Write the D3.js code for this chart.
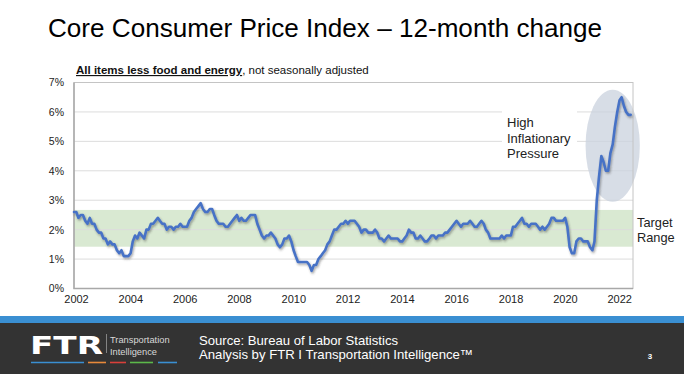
<!DOCTYPE html>
<html><head><meta charset="utf-8">
<script src="https://cdn.jsdelivr.net/npm/d3@7"></script>
<style>
body{margin:0;background:#fff;}
svg{display:block;font-family:"Liberation Sans",Arial,Helvetica,sans-serif;}
</style>
</head><body>
<svg id="chart" width="684" height="374"></svg>
<script>
// ---- data (12-month % change, core CPI, NSA, monthly from Jan 2002) ----
const startYear = 2002;
const coreCpi = [
  2.6,2.6,2.4,2.5,2.5,2.3,2.2,2.4,2.2,2.2,2.0,1.9,   // 2002
  1.9,1.7,1.7,1.5,1.6,1.5,1.5,1.3,1.2,1.3,1.1,1.1,   // 2003
  1.1,1.2,1.6,1.8,1.7,1.9,1.8,1.7,2.0,2.0,2.2,2.2,   // 2004
  2.3,2.4,2.3,2.2,2.2,2.0,2.1,2.1,2.0,2.1,2.1,2.2,   // 2005
  2.1,2.1,2.1,2.3,2.4,2.6,2.7,2.8,2.9,2.7,2.6,2.6,   // 2006
  2.7,2.7,2.5,2.3,2.2,2.2,2.2,2.1,2.1,2.2,2.3,2.4,   // 2007
  2.5,2.3,2.4,2.3,2.3,2.4,2.5,2.5,2.5,2.2,2.0,1.8,   // 2008
  1.7,1.8,1.8,1.9,1.8,1.7,1.5,1.4,1.5,1.7,1.7,1.8,   // 2009
  1.6,1.3,1.1,0.9,0.9,0.9,0.9,0.9,0.8,0.6,0.8,0.8,   // 2010
  1.0,1.1,1.2,1.3,1.5,1.6,1.8,2.0,2.0,2.1,2.2,2.2,   // 2011
  2.3,2.2,2.3,2.3,2.3,2.2,2.1,1.9,2.0,2.0,1.9,1.9,   // 2012
  1.9,2.0,1.9,1.7,1.7,1.6,1.7,1.8,1.7,1.7,1.7,1.7,   // 2013
  1.6,1.6,1.7,1.8,2.0,1.9,1.9,1.7,1.7,1.8,1.7,1.6,   // 2014
  1.6,1.7,1.8,1.8,1.7,1.8,1.8,1.8,1.9,1.9,2.0,2.1,   // 2015
  2.2,2.3,2.2,2.1,2.2,2.2,2.2,2.3,2.2,2.1,2.1,2.2,   // 2016
  2.3,2.2,2.0,1.9,1.7,1.7,1.7,1.7,1.7,1.8,1.7,1.8,   // 2017
  1.8,1.8,2.1,2.1,2.2,2.3,2.4,2.2,2.2,2.1,2.2,2.2,   // 2018
  2.2,2.1,2.0,2.1,2.0,2.1,2.2,2.4,2.4,2.3,2.3,2.3,   // 2019
  2.3,2.4,2.1,1.4,1.2,1.2,1.6,1.7,1.7,1.6,1.6,1.6,   // 2020
  1.4,1.3,1.6,3.0,3.8,4.5,4.3,4.0,4.0,4.6,4.9,5.5,   // 2021
  6.0,6.4,6.5,6.2,6.0,5.9,5.9                        // 2022
];
const yTickValues = [0,1,2,3,4,5,6,7];
const xTickYears = [2002,2004,2006,2008,2010,2012,2014,2016,2018,2020,2022];
const targetRange = [1.42, 2.67];
const highInflationArea = {year: 2021.85, value: 4.85, halfValue: 1.9};
const titleText = "Core Consumer Price Index \u2013 12-month change";
const subtitleBold = "All items less food and energy";
const subtitleRest = ", not seasonally adjusted";
const sourceLines = ["Source: Bureau of Labor Statistics", "Analysis by FTR I Transportation Intelligence\u2122"];
const pageNumber = "3";

// ---- layout ----
const svg = d3.select("#chart");
const plot = {left: 74, right: 633, top: 82.5, bottom: 288.5};

const series = coreCpi.map((v, i) => ({date: new Date(startYear, i, 1), v}));
const x = d3.scaleTime()
  .domain([new Date(startYear, 0, 1), new Date(2022, 7, 1)])
  .range([plot.left, plot.right]);
const y = d3.scaleLinear().domain([0, 7]).range([plot.bottom, plot.top]);
const yearToDate = yr => new Date(Math.floor(yr), Math.round((yr - Math.floor(yr)) * 12), 1);

const defs = svg.append("defs");
defs.append("filter").attr("id", "shadow")
  .attr("x", "-5%").attr("y", "-10%").attr("width", "110%").attr("height", "130%")
  .append("feDropShadow")
  .attr("dx", 1).attr("dy", 1.6).attr("stdDeviation", 0.8)
  .attr("flood-color", "#333").attr("flood-opacity", 0.45);

// title
svg.append("text").attr("x", 48).attr("y", 37)
  .attr("font-size", 26.1).attr("fill", "#000")
  .attr("textLength", 554).attr("lengthAdjust", "spacingAndGlyphs").text(titleText);

// subtitle
const sub = svg.append("text").attr("x", 76).attr("y", 74).attr("font-size", 11.5).attr("fill", "#111");
sub.append("tspan").attr("font-weight", "bold").attr("text-decoration", "underline").text(subtitleBold);
sub.append("tspan").text(subtitleRest);

// target band
svg.append("rect")
  .attr("x", plot.left).attr("width", plot.right - plot.left)
  .attr("y", y(targetRange[1])).attr("height", y(targetRange[0]) - y(targetRange[1]))
  .attr("fill", "#d9e9d2");

// gridlines
svg.append("g").selectAll("line").data(yTickValues.filter(d => d > 0 && d < 7)).join("line")
  .attr("x1", plot.left).attr("x2", plot.right)
  .attr("y1", d => y(d)).attr("y2", d => y(d))
  .attr("stroke", "#dcdcdc").attr("stroke-width", 1);

// white box behind annotation text
svg.append("rect").attr("x", 502).attr("y", 100).attr("width", 75).attr("height", 62).attr("fill", "#fff");

// ellipse (high inflation)
const ha = highInflationArea;
svg.append("ellipse")
  .attr("cx", x(yearToDate(ha.year)))
  .attr("cy", y(ha.value))
  .attr("rx", x(new Date(2012, 0, 1)) - x(new Date(2011, 0, 1)))
  .attr("ry", y(0) - y(ha.halfValue))
  .attr("fill", "#c9d2de").attr("fill-opacity", 0.75);

// plot frame
svg.append("rect")
  .attr("x", plot.left).attr("y", plot.top)
  .attr("width", plot.right - plot.left).attr("height", plot.bottom - plot.top)
  .attr("fill", "none").attr("stroke", "#c4c4c4").attr("stroke-width", 1);
svg.append("path")
  .attr("d", `M${plot.left},${plot.top}V${plot.bottom}H${plot.right}`)
  .attr("fill", "none").attr("stroke", "#a8a8a8").attr("stroke-width", 1.5);

// line
const line = d3.line().x(d => x(d.date)).y(d => y(d.v));
svg.append("path").datum(series)
  .attr("d", line)
  .attr("fill", "none").attr("stroke", "#4672c6").attr("stroke-width", 2.6)
  .attr("stroke-linejoin", "round").attr("stroke-linecap", "round")
  .attr("filter", "url(#shadow)");

// y axis
const yAxis = svg.append("g").attr("transform", `translate(${plot.left},0)`)
  .call(d3.axisLeft(y).tickValues(yTickValues).tickFormat(d => d + "%").tickSize(0).tickPadding(10));
yAxis.select(".domain").remove();
yAxis.selectAll("text").attr("font-size", 10.5).attr("fill", "#222")
  .attr("font-family", '"Liberation Sans",Arial,sans-serif');

// x axis
const xAxis = svg.append("g").attr("transform", `translate(2,${plot.bottom})`)
  .call(d3.axisBottom(x).tickValues(xTickYears.map(yy => new Date(yy, 0, 1)))
    .tickFormat(d3.timeFormat("%Y")).tickSize(0).tickPadding(7));
xAxis.select(".domain").remove();
xAxis.selectAll("text").attr("font-size", 11).attr("fill", "#222")
  .attr("font-family", '"Liberation Sans",Arial,sans-serif');

// annotations
const ann = svg.append("text").attr("x", 507).attr("y", 127).attr("font-size", 13).attr("fill", "#222");
["High", "Inflationary", "Pressure"].forEach((t, i) =>
  ann.append("tspan").attr("x", 507).attr("dy", i === 0 ? 0 : 15.5).text(t));
const tgt = svg.append("text").attr("x", 637).attr("y", 226.5).attr("font-size", 12.8).attr("fill", "#222");
["Target", "Range"].forEach((t, i) =>
  tgt.append("tspan").attr("x", 637).attr("dy", i === 0 ? 0 : 15.5).text(t));

// footer
svg.append("rect").attr("x", 0).attr("y", 316).attr("width", 684).attr("height", 7).attr("fill", "#3a8fd2");
svg.append("rect").attr("x", 0).attr("y", 323).attr("width", 684).attr("height", 51).attr("fill", "#333333");

svg.append("text").attr("x", 30).attr("y", 353.5)
  .attr("font-family", '"DejaVu Sans",sans-serif').attr("font-weight", "bold")
  .attr("font-size", 24.5).attr("fill", "#fff")
  .attr("textLength", 73).attr("lengthAdjust", "spacingAndGlyphs").text("FTR");
svg.append("line").attr("x1", 106.5).attr("x2", 106.5).attr("y1", 334).attr("y2", 353)
  .attr("stroke", "#999").attr("stroke-width", 0.8);
svg.append("text").attr("x", 110).attr("y", 342.5).attr("font-size", 9.3).attr("fill", "#d8d8d8").text("Transportation");
svg.append("text").attr("x", 110).attr("y", 354.5).attr("font-size", 9.3).attr("fill", "#d8d8d8").text("Intelligence");
const stripes = [[31, 84, "#3a8fd2"], [88, 106, "#e8893a"], [110, 126, "#d9403a"], [130, 153, "#5cb84a"], [158, 177, "#3a8fd2"]];
svg.append("g").selectAll("line").data(stripes).join("line")
  .attr("x1", d => d[0]).attr("x2", d => d[1]).attr("y1", 362.5).attr("y2", 362.5)
  .attr("stroke", d => d[2]).attr("stroke-width", 1.6);

sourceLines.forEach((t, i) =>
  svg.append("text").attr("x", 199).attr("y", 345 + i * 14).attr("font-size", 13).attr("fill", "#fff")
    .attr("textLength", i === 0 ? 199 : 274).attr("lengthAdjust", "spacingAndGlyphs").text(t));
svg.append("text").attr("x", 650).attr("y", 359).attr("font-size", 8).attr("font-weight", "bold")
  .attr("fill", "#fff").attr("text-anchor", "middle").text(pageNumber);
</script>
</body></html>
